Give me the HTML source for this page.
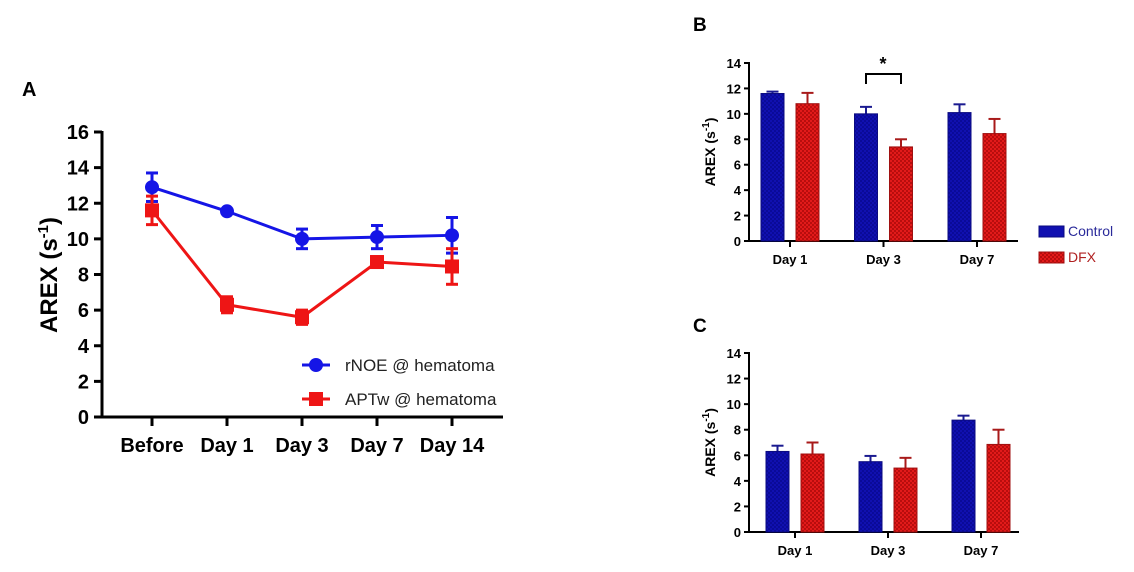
<!DOCTYPE html>
<html><head><meta charset="utf-8"><style>
body{margin:0;background:#fff;width:1134px;height:572px;overflow:hidden}
svg{display:block}
text{font-family:"Liberation Sans",Arial,sans-serif}
</style></head><body>
<svg id="s" width="1134" height="572">
<defs>
<pattern id="chk" width="4" height="4" patternUnits="userSpaceOnUse">
<rect width="4" height="4" fill="#e21a1a"/><rect width="2" height="2" fill="#b80d0d"/><rect x="2" y="2" width="2" height="2" fill="#b80d0d"/>
</pattern>
<pattern id="bchk" width="4" height="4" patternUnits="userSpaceOnUse">
<rect width="4" height="4" fill="#1010b0"/><rect width="2" height="2" fill="#0a0a98"/><rect x="2" y="2" width="2" height="2" fill="#0a0a98"/>
</pattern>
</defs>
</svg>
<script>
// Panel A data
const aCats=["Before","Day 1","Day 3","Day 7","Day 14"];
const aBlue=[12.9,11.55,10.0,10.1,10.2];
const aBlueErr=[0.8,0.1,0.55,0.65,1.0];
const aRed=[11.6,6.3,5.6,8.7,8.45];
const aRedErr=[0.8,0.45,0.4,0.3,1.0];
const aTicks=[0,2,4,6,8,10,12,14,16];
// Panel B data
const bCats=["Day 1","Day 3","Day 7"];
const bCtrl=[11.6,10.0,10.1];
const bCtrlErr=[0.15,0.55,0.65];
const bDfx=[10.8,7.4,8.45];
const bDfxErr=[0.85,0.6,1.15];
// Panel C data
const cCats=["Day 1","Day 3","Day 7"];
const cCtrl=[6.3,5.5,8.75];
const cCtrlErr=[0.45,0.45,0.35];
const cDfx=[6.1,5.0,6.85];
const cDfxErr=[0.9,0.8,1.15];
const bcTicks=[0,2,4,6,8,10,12,14];

const S=document.getElementById('s');const NS='http://www.w3.org/2000/svg';
function el(t,a,p){const e=document.createElementNS(NS,t);for(const k in a)e.setAttribute(k,a[k]);(p||S).appendChild(e);return e;}
function txt(x,y,s,a,p){const e=el('text',Object.assign({x:x,y:y},a),p);e.textContent=s;return e;}

// ---------- Panel A ----------
{
const g=el('g',{});
const x0=102,y0=417,yT=132,xs=[152,227,302,377,452];
const Y=v=>y0-(v/16)*(y0-yT);
const X=i=>xs[0]+i*(xs[4]-xs[0])/(aCats.length-1);
const lab=txt(22,96,"A",{'font-size':20,'font-weight':'bold'},g);
el('line',{x1:x0,y1:yT-1,x2:x0,y2:y0+1.5,stroke:'#000','stroke-width':3},g);
el('line',{x1:x0-1.5,y1:y0,x2:503,y2:y0,stroke:'#000','stroke-width':3},g);
aTicks.forEach(t=>{el('line',{x1:x0-8,y1:Y(t),x2:x0,y2:Y(t),stroke:'#000','stroke-width':3},g);
const e=txt(x0-13,Y(t)+7,String(t),{'font-size':20,'font-weight':'bold','text-anchor':'end'},g);});
aCats.forEach((c,i)=>{el('line',{x1:X(i),y1:y0,x2:X(i),y2:y0+9,stroke:'#000','stroke-width':3},g);
const e=txt(X(i),452,c,{'font-size':20,'font-weight':'bold','text-anchor':'middle'},g);});
const yt=el('text',{x:0,y:0,transform:'translate(57,275) rotate(-90)','font-size':24,'font-weight':'bold','text-anchor':'middle'},g);
yt.innerHTML='AREX (s<tspan dy="-9" font-size="15">-1</tspan><tspan dy="9">)</tspan>';

function series(vals,errs,col,name,sq){
 const pts=vals.map((v,i)=>X(i)+','+Y(v)).join(' ');
 const l=el('polyline',{points:pts,fill:'none',stroke:col,'stroke-width':3},g);
 vals.forEach((v,i)=>{const x=X(i);
  el('line',{x1:x,y1:Y(v+errs[i]),x2:x,y2:Y(v-errs[i]),stroke:col,'stroke-width':3},g);
  el('line',{x1:x-6,y1:Y(v+errs[i]),x2:x+6,y2:Y(v+errs[i]),stroke:col,'stroke-width':3},g);
  el('line',{x1:x-6,y1:Y(v-errs[i]),x2:x+6,y2:Y(v-errs[i]),stroke:col,'stroke-width':3},g);
  const m=sq?el('rect',{x:x-7,y:Y(v)-7,width:14,height:14,fill:col},g):el('circle',{cx:x,cy:Y(v),r:7,fill:col},g);
  });
}
series(aBlue,aBlueErr,'#1515e6','rnoe',false);
series(aRed,aRedErr,'#ee1515','aptw',true);
const l1=el('g',{},g);
el('line',{x1:302,y1:365,x2:330,y2:365,stroke:'#1515e6','stroke-width':3},l1);el('circle',{cx:316,cy:365,r:7,fill:'#1515e6'},l1);
txt(345,371,'rNOE @ hematoma',{'font-size':17,fill:'#222'},l1);
const l2=el('g',{},g);
el('line',{x1:302,y1:399,x2:330,y2:399,stroke:'#ee1515','stroke-width':3},l2);el('rect',{x:309,y:392,width:14,height:14,fill:'#ee1515'},l2);
txt(345,405,'APTw @ hematoma',{'font-size':17,fill:'#222'},l2);
}

// ---------- Bar panels ----------
function barPanel(name,label,lx,ly,x0,y0,yT,xEnd,ticksX,cats,ctrl,ce,dfx,de){
 const g=el('g',{});
 const Y=v=>y0-(v/14)*(y0-yT);
 const X=i=>ticksX[0]+i*(ticksX[2]-ticksX[0])/(cats.length-1);
 const lb=txt(lx,ly,label,{'font-size':19,'font-weight':'bold'},g);
 el('line',{x1:x0,y1:yT-1,x2:x0,y2:y0+1,stroke:'#000','stroke-width':2},g);
 el('line',{x1:x0-1,y1:y0,x2:xEnd,y2:y0,stroke:'#000','stroke-width':2},g);
 bcTicks.forEach(t=>{el('line',{x1:x0-5,y1:Y(t),x2:x0,y2:Y(t),stroke:'#000','stroke-width':2},g);
  const e=txt(x0-8,Y(t)+5,String(t),{'font-size':13,'font-weight':'bold','text-anchor':'end'},g);});
 cats.forEach((c,i)=>{el('line',{x1:X(i),y1:y0,x2:X(i),y2:y0+6,stroke:'#000','stroke-width':2},g);
  const e=txt(X(i),y0+23,c,{'font-size':13,'font-weight':'bold','text-anchor':'middle'},g);});
 const yt=el('text',{x:0,y:0,transform:`translate(${x0-34},${(y0+yT)/2}) rotate(-90)`,'font-size':14,'font-weight':'bold','text-anchor':'middle'},g);
 yt.innerHTML='AREX (s<tspan dy="-6" font-size="10">-1</tspan><tspan dy="6">)</tspan>';
 
 function bar(cx,v,e,fill,stroke,err,nm){
  const w=23;
  el('line',{x1:cx,y1:Y(v+e),x2:cx,y2:Y(v),stroke:err,'stroke-width':2},g);
  el('line',{x1:cx-6,y1:Y(v+e),x2:cx+6,y2:Y(v+e),stroke:err,'stroke-width':2},g);
  const r=el('rect',{x:cx-w/2,y:Y(v),width:w,height:y0-Y(v),fill:fill,stroke:stroke,'stroke-width':1},g);
  
 }
 cats.forEach((c,i)=>{bar(X(i)-17.5,ctrl[i],ce[i],'url(#bchk)','#0a0a80','#1a1a90','bar-control');
  bar(X(i)+17.5,dfx[i],de[i],'url(#chk)','#a01010','#a81a1a','bar-dfx');});
 return {g:g,X:X,Y:Y};
}
const B=barPanel('panel-b-bar-chart','B',693,31,749,241,63,1018,[790,883,977],bCats,bCtrl,bCtrlErr,bDfx,bDfxErr);
// significance bracket
{const x1=B.X(1)-17.5,x2=B.X(1)+17.5,yb=74;
 const p=el('polyline',{points:`${x1},${yb+10} ${x1},${yb} ${x2},${yb} ${x2},${yb+10}`,fill:'none',stroke:'#000','stroke-width':2},B.g);
 
 const s=txt(B.X(1)-0.5,70,'*',{'font-size':18,'font-weight':'bold','text-anchor':'middle'},B.g);}
barPanel('panel-c-bar-chart','C',693,332,749,532,353,1019,[795,888,981],cCats,cCtrl,cCtrlErr,cDfx,cDfxErr);
// legend B
{const l1=el('g',{});
 el('rect',{x:1039,y:226,width:25,height:11,fill:'#1010b0',stroke:'#0a0a80'},l1);txt(1068,236,'Control',{'font-size':14,fill:'#2a2a9a'},l1);
 const l2=el('g',{});
 el('rect',{x:1039,y:252,width:25,height:11,fill:'url(#chk)',stroke:'#a01010'},l2);txt(1068,262,'DFX',{'font-size':14,fill:'#b02020'},l2);}
</script>
</body></html>
